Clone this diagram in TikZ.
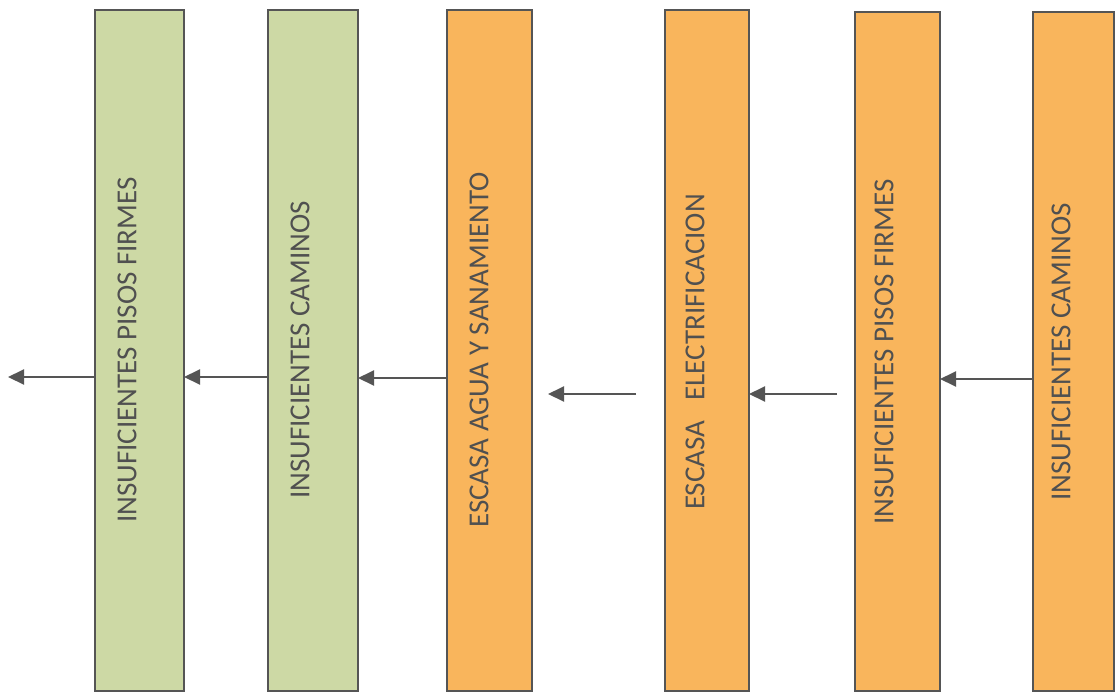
\documentclass[tikz,border=0pt]{standalone}
\usepackage{fontspec}
\setmainfont{Carlito}
\usetikzlibrary{arrows.meta}
\definecolor{boxgreen}{HTML}{CDD9A5}
\definecolor{boxorange}{HTML}{F9B55C}
\definecolor{edgegray}{HTML}{555555}
\definecolor{txtgray}{HTML}{505050}
\tikzset{
  greenbox/.style={draw=edgegray, line width=1.8pt, fill=boxgreen, inner sep=0pt, outer sep=0pt, anchor=north west},
  orangebox/.style={draw=edgegray, line width=1.8pt, fill=boxorange, inner sep=0pt, outer sep=0pt, anchor=north west},
  vlabel/.style={rotate=90, inner sep=0pt, text=txtgray, font=\fontsize{29}{32}\selectfont},
  flow/.style={draw=edgegray, line width=2pt, -{Triangle[length=16pt,width=15pt]}}
}
\begin{document}
\begin{tikzpicture}[x=1pt,y=-1pt]
\useasboundingbox[fill=white] (0,0) rectangle (1115,693);
% boxes
\node[greenbox, minimum width=89pt, minimum height=681pt] (b1) at (95,10) {};
\node[greenbox, minimum width=90pt, minimum height=681pt] (b2) at (268,10) {};
\node[orangebox, minimum width=85pt, minimum height=681pt] (b3) at (447,10) {};
\node[orangebox, minimum width=84pt, minimum height=681pt] (b4) at (665,10) {};
\node[orangebox, minimum width=85pt, minimum height=679pt] (b5) at (855,12) {};
\node[orangebox, minimum width=81pt, minimum height=679pt] (b6) at (1033,12) {};
% labels
\node[vlabel] (t1) at (127,350) {INSUFICIENTES PISOS FIRMES};
\node[vlabel] (t2) at (300,350) {INSUFICIENTES CAMINOS};
\node[vlabel] (t3) at (479,350) {ESCASA AGUA Y SANAMIENTO};
\node[vlabel] (t4) at (695,352) {ESCASA\hspace{0.7em}ELECTRIFICACION};
\node[vlabel] (t5) at (884,352) {INSUFICIENTES PISOS FIRMES};
\node[vlabel] (t6) at (1061,352) {INSUFICIENTES CAMINOS};
% connectors
\coordinate (e1) at (8,377);
\coordinate (y3) at (0,378);
\coordinate (y6) at (0,379);
\coordinate (s4) at (636,394);
\coordinate (e4) at (548,394);
\coordinate (s5) at (837,394);
\draw[flow] (b1.west |- e1) -- (e1);
\draw[flow] (b2.west |- e1) -- (b1.east |- e1);
\draw[flow] (b3.west |- y3) -- (b2.east |- y3);
\draw[flow] (s4) -- (e4);
\draw[flow] (s5) -- (b4.east |- s5);
\draw[flow] (b6.west |- y6) -- (b5.east |- y6);
\end{tikzpicture}
\end{document}
